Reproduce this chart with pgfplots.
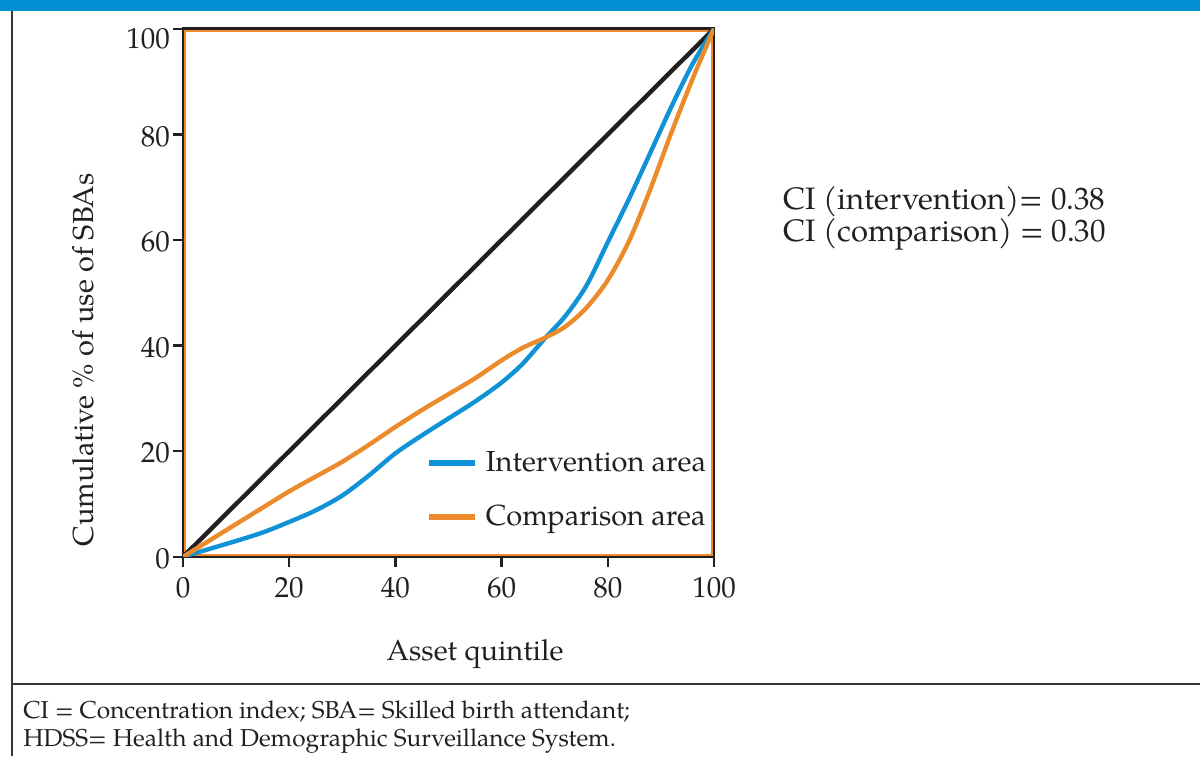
\documentclass[border=0pt]{standalone}
\usepackage{fontspec}
\setmainfont{TeX Gyre Pagella}
\usepackage{pgfplots}
\pgfplotsset{compat=1.18}

\definecolor{hdrblue}{RGB}{0,142,212}
\definecolor{cblue}{RGB}{16,147,214}
\definecolor{corange}{RGB}{236,139,43}
\definecolor{cblack}{RGB}{35,31,32}
\definecolor{rulegray}{RGB}{55,55,55}

\begin{document}
\begin{tikzpicture}
\useasboundingbox (0pt,0pt) rectangle (600pt,378pt);
% header band and frame rules
\fill[hdrblue] (0pt,372.5pt) rectangle (600pt,378pt);
\draw[rulegray, line width=1pt] (6pt,0pt) -- (6pt,372.5pt);
\draw[rulegray, line width=1pt] (6pt,36pt) -- (600pt,36pt);
\node[anchor=base west, inner sep=0pt, font=\fontsize{12.2}{14}\selectfont, text=cblack]
  at (11.5pt,19pt) {CI = Concentration index; SBA= Skilled birth attendant;};
\node[anchor=base west, inner sep=0pt, font=\fontsize{12.2}{14}\selectfont, text=cblack]
  at (11.5pt,5pt) {HDSS= Health and Demographic Surveillance System.};

\begin{axis}[
  at={(91.5pt,99.6pt)}, anchor=south west,
  scale only axis, width=265.5pt, height=264pt,
  xmin=0, xmax=100, ymin=0, ymax=100,
  axis line style={cblack, line width=1.35pt},
  tick pos=left, tick align=outside,
  major tick length=5pt,
  xtick={0,20,40,60,80,100},
  ytick={0,20,40,60,80,100},
  xticklabels={0,20,40,60,80,100},
  yticklabels={0,20,40,60,80,\raisebox{-4pt}[\height][\depth]{100}},
  tick style={cblack, line width=1.2pt},
  tick label style={font=\fontsize{14.5}{16}\selectfont, text=cblack},
  y tick label style={yshift=-1pt, xshift=2pt},
  x tick label style={yshift=-2pt},
  legend style={draw=none, fill=none, at={(axis cs:44.5,21.5)}, anchor=north west,
    font=\fontsize{14.5}{16}\selectfont, row sep=11pt, text=cblack},
  legend cell align=left,
  legend image code/.code={\draw[#1, line width=3pt] (0pt,0pt) -- (23pt,0pt); \path (25.5pt,0pt);},
]
% inner orange frame
\draw[corange, line width=1pt]
  ([xshift=1pt,yshift=1pt]rel axis cs:0,0) rectangle ([xshift=-1pt,yshift=-1pt]rel axis cs:1,1);
% line of equality
\addplot[cblack, line width=2.2pt, forget plot] coordinates {(0,0) (100,100)};
% intervention area
\addplot[cblue, line width=2.2pt, smooth] coordinates {
  (0,0) (5,1.5) (10,3.0) (15,4.6) (20,6.6) (25,8.8) (30,11.6) (35,15.4)
  (40,19.6) (45,23.0) (50,26.2) (55,29.4) (60,33.0) (64,36.6) (68,41.2)
  (72,45.6) (76,51.4) (80,59.6) (84,67.8) (88,76.5) (92,85.3) (96,93.4) (100,100)};
\addlegendentry{Intervention area}
% comparison area
\addplot[corange, line width=2.2pt, smooth] coordinates {
  (0,0) (5,3.1) (10,6.2) (15,9.3) (20,12.4) (25,15.2) (30,18.0) (35,21.2)
  (40,24.6) (45,27.8) (50,30.8) (55,33.8) (60,37.2) (64,39.6) (68,41.4)
  (72,43.6) (76,47.2) (80,52.4) (84,59.8) (88,69.6) (92,80.4) (96,90.6) (100,100)};
\addlegendentry{Comparison area}
\end{axis}

% axis titles
\node[rotate=90, anchor=center, inner sep=0pt, font=\fontsize{14.5}{16}\selectfont, text=cblack]
  at (41.5pt,198pt) {Cumulative \% of use of SBAs};
\node[anchor=base, inner sep=0pt, font=\fontsize{14.5}{16}\selectfont, text=cblack]
  at (237.5pt,48pt) {Asset quintile};
% concentration indices
\node[anchor=base west, inner sep=0pt, font=\fontsize{15.5}{16}\selectfont, text=cblack]
  at (391.5pt,273pt) {CI (intervention)= 0.38};
\node[anchor=base west, inner sep=0pt, font=\fontsize{15.5}{16}\selectfont, text=cblack]
  at (391.5pt,257pt) {CI (comparison) = 0.30};
\end{tikzpicture}
\end{document}
